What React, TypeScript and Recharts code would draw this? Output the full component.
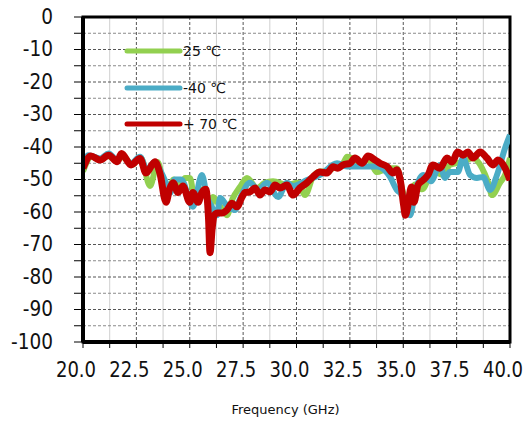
import React from "react";
import {
  LineChart,
  Line,
  XAxis,
  YAxis,
  CartesianGrid,
  Legend,
  ReferenceArea,
} from "recharts";

// frequency (GHz) / insertion loss (dB)
const freq25 = [
  20.0, 20.4, 20.8, 21.15, 21.6, 21.9, 22.3, 22.7, 23.14, 23.5, 23.9, 24.25, 24.5, 24.78,
  25.01, 25.25, 25.5, 25.75, 26.0, 26.09, 26.4, 26.74, 27.0, 27.35, 27.68, 28.15, 28.52,
  28.9, 29.55, 30.07, 30.4, 30.77, 31.1, 31.43, 31.71, 32.18, 32.37, 32.74, 33.07, 33.35,
  33.77, 34.1, 34.38, 34.7, 34.99, 35.2, 35.55, 35.88, 36.39, 36.86, 37.19, 37.8, 38.27,
  38.69, 38.97, 39.16, 39.53, 39.77, 40.0,
];
const loss25 = [
  -47.5, -43, -44, -42.8, -44, -43, -45.5, -43.2, -52, -44.6, -55, -50, -52, -49.5,
  -49.5, -57, -53, -55, -58, -55.4, -58, -61, -56, -52.3, -49.5, -52.6, -51,
  -50.5, -51.7, -51, -54.8, -49.2, -47.5, -47.5, -46.5, -45, -43, -44, -45.5, -43.5,
  -47.7, -47, -46.5, -46.5, -54, -57, -51.5, -53, -47.5, -48.6, -45.5, -44.6, -43.4,
  -46.5, -50.8, -54.8, -51, -48.6, -43.4,
];

const freqM40 = [
  20.0, 20.25, 20.8, 21.2, 21.6, 21.8, 22.25, 22.67, 23.0, 23.37, 23.6, 23.89, 24.1, 24.3,
  24.6, 25.15, 25.57, 25.81, 26.0, 26.28, 26.42, 26.74, 27.12, 27.35, 27.82, 28.2, 28.62,
  29.14, 29.55, 29.84, 30.49, 31.1, 31.9, 32.37, 32.98, 33.77, 34.38, 34.7, 35.0, 35.2,
  35.32, 35.55, 35.93, 36.3, 36.72, 36.95, 37.19, 37.56, 37.8, 38.13, 38.45, 38.74, 39.07,
  39.39, 39.77, 40.0,
];
const lossM40 = [
  -46, -42.5, -43.5, -42, -44, -42.5, -45, -43, -47, -44.5, -47, -51, -54, -50,
  -50, -58.4, -48.6, -55.4, -58, -61, -55.7, -58, -59.4, -56, -51, -53.2, -51,
  -55.4, -51, -52, -50.2, -48.6, -45, -46, -46, -46, -49.2, -53.2, -55, -58,
  -61, -54, -48.6, -50.5, -45.5, -49.5, -47.7, -47.7, -43.4, -48.6, -49.5, -49.2, -53.2,
  -48.6, -40.3, -36.3,
];

const freq70 = [
  20.0, 20.37, 20.8, 21.2, 21.6, 21.8, 22.25, 22.67, 22.95, 23.37, 23.6, 23.89, 24.05, 24.22,
  24.45, 24.68, 25.0, 25.15, 25.39, 25.57, 25.75, 25.88, 25.95, 26.05, 26.15, 26.3, 26.51,
  26.74, 26.98, 27.21, 27.45, 27.59, 27.82, 28.06, 28.29, 28.52, 28.76, 28.99, 29.23, 29.55,
  29.84, 30.16, 30.49, 30.77, 31.1, 31.43, 31.71, 31.94, 32.18, 32.51, 32.74, 33.07, 33.35,
  33.68, 33.91, 34.24, 34.52, 34.7, 34.88, 35.02, 35.1, 35.22, 35.38, 35.5, 35.69, 35.93,
  36.16, 36.39, 36.72, 37.05, 37.28, 37.56, 37.8, 38.03, 38.27, 38.6, 38.92, 39.2, 39.44,
  39.77, 40.0,
];
const loss70 = [
  -46.5, -42.8, -44, -42.5, -44.5, -42, -45.5, -43.5, -48, -44.5, -48, -57, -53, -51,
  -54, -52, -57, -54, -57, -54, -53, -62, -72.5, -65, -61, -60.3, -60.3,
  -59.4, -57.3, -58.4, -55.4, -54, -53.8, -52.6, -54.8, -53.2, -53.8, -51.7, -52.6, -51.7,
  -54.8, -52.6, -51, -49.2, -47.7, -48, -46.1, -46.5, -45.5, -45, -43.4, -45, -42.8,
  -44, -45, -46, -48, -47, -51, -58, -61, -58, -52.3, -57, -51.7, -50.2,
  -48.6, -45.5, -46.5, -43.4, -44.6, -41.5, -42.5, -41.5, -43.4, -41.5, -43.4, -45.5, -44,
  -46.5, -50.2,
];

const seriesNames = ["25 ℃", "-40 ℃", "+ 70 ℃"];
const xTicks = [20, 21.25, 22.5, 23.75, 25, 26.25, 27.5, 28.75, 30, 31.25, 32.5, 33.75, 35, 36.25, 37.5, 38.75, 40];
const xMajor = [22.5, 25, 27.5, 30, 32.5, 35, 37.5];
const xMinor = [21.25, 23.75, 26.25, 28.75, 31.25, 33.75, 36.25, 38.75];
const yTicks = [-100, -95, -90, -85, -80, -75, -70, -65, -60, -55, -50, -45, -40, -35, -30, -25, -20, -15, -10, -5, 0];
const yMajor = [-90, -80, -70, -60, -50, -40, -30, -20, -10];
const yMinor = [-95, -85, -75, -65, -55, -45, -35, -25, -15, -5];

const toPoints = (f: number[], v: number[]) => f.map((x, i) => ({ f: x, v: v[i] }));

const FONT = "'DejaVu Sans', Verdana, sans-serif";

const YTick = ({ x, y, payload }: any) => {
  if (payload.value % 10 !== 0) return <g />;
  return (
    <text
      x={x}
      y={y}
      textAnchor="end"
      dominantBaseline="central"
      fontFamily={FONT}
      fontSize={21}
      fill="#111"
      transform={`translate(${x} ${y}) scale(0.88 1) translate(${-x} ${-y})`}
    >
      {payload.value}
    </text>
  );
};

const XTick = ({ x, y, payload }: any) => {
  if (Math.round(payload.value * 100) % 250 !== 0) return <g />;
  const cx = x - 7;
  return (
    <text
      x={cx}
      y={y}
      dy="0.71em"
      textAnchor="middle"
      fontFamily={FONT}
      fontSize={21}
      fill="#111"
      transform={`translate(${cx} ${y}) scale(0.86 1) translate(${-cx} ${-y})`}
    >
      {payload.value.toFixed(1)}
    </text>
  );
};

// keep legend rows in series order
const renderLegend = (props: any) => {
  const items = [...(props.payload || [])].sort(
    (a: any, b: any) => seriesNames.indexOf(a.value) - seriesNames.indexOf(b.value)
  );
  return (
    <div style={{ fontFamily: FONT, fontSize: 14, color: "#111" }}>
      {items.map((e: any) => (
        <div key={e.value} style={{ display: "flex", alignItems: "center", height: 36.5 }}>
          <svg width={59} height={8}>
            <line x1={3} y1={4} x2={56} y2={4} stroke={e.color} strokeWidth={5} strokeLinecap="round" />
          </svg>
          <span style={{ whiteSpace: "nowrap" }}>{e.value}</span>
        </div>
      ))}
    </div>
  );
};

export default function App() {
  return (
    <div style={{ width: 529, height: 422, background: "#fff" }}>
      <style>{"body{margin:0}"}</style>
      <LineChart width={529} height={422} margin={{ top: 17, right: 19, left: 13, bottom: 0 }}>
        <CartesianGrid horizontal={false} verticalValues={xMinor} stroke="#cfcfcf" />
        <CartesianGrid horizontal={false} verticalValues={xMajor} stroke="#555" strokeDasharray="3 2" />
        <CartesianGrid vertical={false} horizontalValues={yMinor} stroke="#8a8a8a" strokeDasharray="3 2" />
        <CartesianGrid vertical={false} horizontalValues={yMajor} stroke="#555" strokeDasharray="3 2" />
        <XAxis
          type="number"
          dataKey="f"
          domain={[20, 40]}
          ticks={xTicks}
          interval={0}
          allowDataOverflow
          height={80}
          tickSize={6}
          tickMargin={14}
          tickLine={{ stroke: "#000" }}
          axisLine={{ stroke: "#000", strokeWidth: 4 }}
          tick={<XTick />}
          label={{
            value: "Frequency (GHz)",
            position: "insideBottom",
            offset: 8,
            dx: -11,
            fontFamily: FONT,
            fontSize: 13,
            fill: "#111",
          }}
        />
        <YAxis
          type="number"
          domain={[-100, 0]}
          ticks={yTicks}
          interval={0}
          allowDataOverflow
          width={70}
          tickSize={9}
          tickMargin={21}
          tickLine={{ stroke: "#000" }}
          axisLine={{ stroke: "#000", strokeWidth: 4 }}
          tick={<YTick />}
        />
        <ReferenceArea x1={20} x2={40} y1={-100} y2={0} fill="none" stroke="#000" strokeWidth={3} />
        <Legend
          layout="vertical"
          align="center"
          verticalAlign="middle"
          itemSorter={null as any}
          content={renderLegend}
          wrapperStyle={{ left: 124, top: 33, width: 140 }}
        />
        <Line
          name={seriesNames[0]}
          data={toPoints(freq25, loss25)}
          dataKey="v"
          type="monotone"
          stroke="#92D050"
          strokeWidth={6}
          dot={false}
          isAnimationActive={false}
        />
        <Line
          name={seriesNames[1]}
          data={toPoints(freqM40, lossM40)}
          dataKey="v"
          type="monotone"
          stroke="#4BACC6"
          strokeWidth={6}
          dot={false}
          isAnimationActive={false}
        />
        <Line
          name={seriesNames[2]}
          data={toPoints(freq70, loss70)}
          dataKey="v"
          type="monotone"
          stroke="#C00000"
          strokeWidth={7}
          dot={false}
          isAnimationActive={false}
        />
      </LineChart>
    </div>
  );
}
